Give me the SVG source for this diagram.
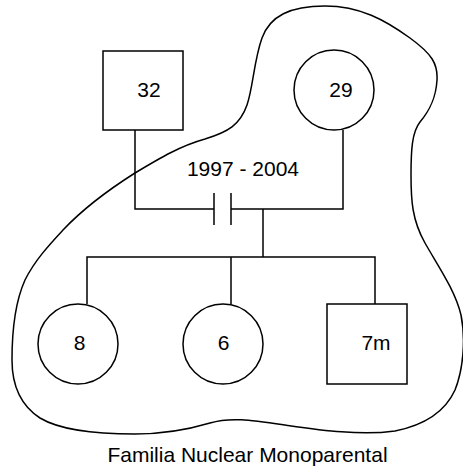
<svg xmlns="http://www.w3.org/2000/svg" width="463" height="469" viewBox="0 0 463 469">
<style>
.s{fill:#fff;stroke:#000;stroke-width:1.5}
.l{fill:none;stroke:#000;stroke-width:1.5}
text{font-family:"Liberation Sans",Arial,sans-serif;font-size:21px;fill:#000;text-anchor:middle}
</style>
<rect width="463" height="469" fill="#fff"/>
<path id="boundary" class="l" d="M 63,230 C 80,212 105,192 135,173 C 160,158 180,146 205,139 C 228,132 240,125 247,105 C 253,88 254,60 262,38 C 270,16 290,6 325,6 C 360,6 385,20 410,38 C 432,54 438,64 437,80 C 436,98 430,110 420,122 C 412,132 411,150 411,175 C 411,200 412,220 425,243 C 438,266 455,290 461,315 C 466,340 463,370 455,390 C 445,412 425,425 395,431 C 360,436 320,430 285,425 C 250,420 230,417 210,423 C 190,429 165,434 135,434 C 95,434 60,430 40,418 C 20,405 12,385 12,360 C 12,330 16,300 25,280 C 35,260 50,244 63,230 Z"/>
<g id="connectors" class="l">
<polyline points="135,130 135,209 214,209"/>
<line x1="214" y1="193" x2="214" y2="225"/>
<line x1="231" y1="193" x2="231" y2="225"/>
<polyline points="231,209 343,209 343,130"/>
<line x1="263" y1="209" x2="263" y2="257"/>
<polyline points="87,304 87,257 375,257 375,304"/>
<line x1="231" y1="257" x2="231" y2="304"/>
</g>
<text x="243" y="176">1997 - 2004</text>
<g id="n32"><rect class="s" x="103" y="51" width="80" height="79"/><text x="149" y="96.5">32</text></g>
<g id="n29"><circle class="s" cx="334" cy="90" r="40"/><text x="341" y="96.5">29</text></g>
<g id="n8"><circle class="s" cx="78" cy="344" r="40"/><text x="79.5" y="349.5">8</text></g>
<g id="n6"><circle class="s" cx="223" cy="344" r="40"/><text x="223.5" y="349.5">6</text></g>
<g id="n7m"><rect class="s" x="327" y="304" width="80" height="80"/><text x="376" y="349.5">7m</text></g>
<text x="247.5" y="462">Familia Nuclear Monoparental</text>
</svg>
